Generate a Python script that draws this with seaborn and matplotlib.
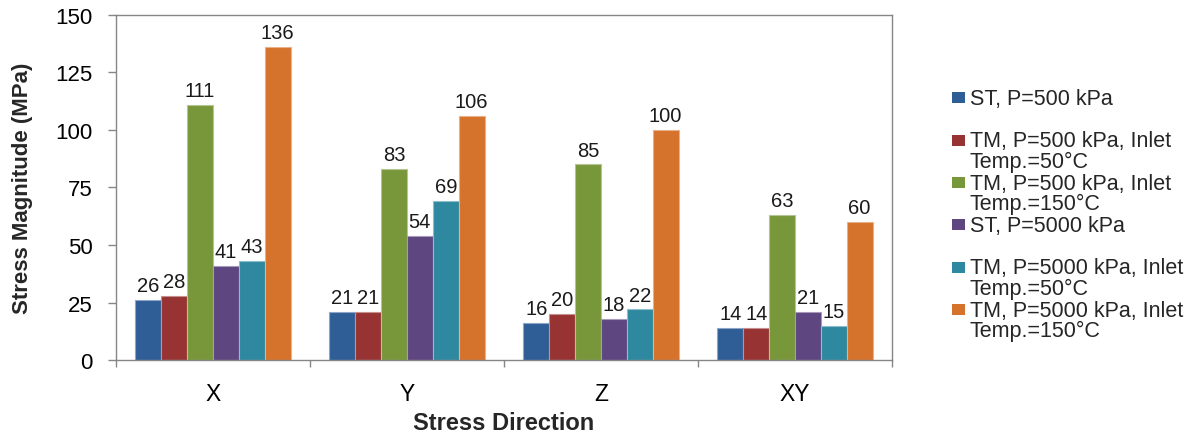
import matplotlib
matplotlib.use("Agg")
import matplotlib.pyplot as plt
from matplotlib.patches import Rectangle
from matplotlib.legend_handler import HandlerPatch
from matplotlib.colors import to_rgb
import numpy as np
import pandas as pd
import seaborn as sns

# ---- data -------------------------------------------------------------
directions = ["X", "Y", "Z", "XY"]
series_labels = [
    "ST, P=500 kPa",
    "TM, P=500 kPa, Inlet\nTemp.=50°C",
    "TM, P=500 kPa, Inlet\nTemp.=150°C",
    "ST, P=5000 kPa",
    "TM, P=5000 kPa, Inlet\nTemp.=50°C",
    "TM, P=5000 kPa, Inlet\nTemp.=150°C",
]
st_500 = [26, 21, 16, 14]
tm_500_50 = [28, 21, 20, 14]
tm_500_150 = [111, 83, 85, 63]
st_5000 = [41, 54, 18, 21]
tm_5000_50 = [43, 69, 22, 15]
tm_5000_150 = [136, 106, 100, 60]
series_values = [st_500, tm_500_50, tm_500_150, st_5000, tm_5000_50, tm_5000_150]
y_ticks = [0, 25, 50, 75, 100, 125, 150]

colors = ["#2F5E97", "#983333", "#78963A", "#5E4680", "#2E88A0", "#D5722B"]

rows = []
for label, vals in zip(series_labels, series_values):
    for d, v in zip(directions, vals):
        rows.append({"Direction": d, "Series": label, "Stress": v})
df = pd.DataFrame(rows)

# ---- style ------------------------------------------------------------
sns.set_style("white")
plt.rcParams["font.family"] = ["Liberation Sans", "DejaVu Sans"]
spine_gray = "#868686"

fig = plt.figure(figsize=(12.02, 4.35), dpi=100)
ax = fig.add_axes([116 / 1202, 1 - 361 / 435, (892 - 116) / 1202, (361 - 16) / 435])

sns.barplot(
    data=df, x="Direction", y="Stress", hue="Series",
    order=directions, hue_order=series_labels, palette=colors,
    saturation=1, errorbar=None, width=0.8, legend=False, ax=ax,
)

# light rim on every bar
for patch in ax.patches:
    fc = np.array(to_rgb(patch.get_facecolor()))
    patch.set_edgecolor(tuple(fc + (1 - fc) * 0.45))
    patch.set_linewidth(0.8)

# value labels
for cont in ax.containers:
    ax.bar_label(cont, fmt="{:.0f}", padding=3.5, fontsize=14.5, color="#1a1a1a")

# axes limits / ticks
ax.set_ylim(0, 150)
ax.set_xlim(-0.5, len(directions) - 0.5)
ax.set_yticks(y_ticks)
ax.set_xticks(np.arange(-0.5, len(directions)), minor=True)
ax.tick_params(axis="y", which="major", length=6, width=1, color=spine_gray,
               direction="out", pad=11, labelsize=16, labelcolor="black", left=True)
ax.tick_params(axis="x", which="major", length=0, pad=16, labelsize=16.5,
               labelcolor="black")
ax.tick_params(axis="x", which="minor", length=5, width=1, color=spine_gray,
               direction="out", bottom=True)

for s in ax.spines.values():
    s.set_visible(True)
    s.set_color(spine_gray)
    s.set_linewidth(1)

ax.set_ylabel("Stress Magnitude (MPa)", fontsize=16, fontweight="bold")
ax.set_xlabel("Stress Direction", fontsize=17, fontweight="bold")
ax.yaxis.set_label_coords(-0.107, 0.5)
ax.xaxis.set_label_coords(0.5, -0.148)
ax.xaxis.label.set_va("top")

# ---- legend -----------------------------------------------------------
leg_fs = 15.5


def square_on_first_line(legend, orig_handle, xdescent, ydescent, width, height, fontsize):
    side_h = 0.52 * fontsize
    side_w = 0.6 * fontsize
    shift = 0.52 * fontsize
    y0 = -ydescent + (height - side_h) / 2 + shift
    return Rectangle((-xdescent, y0), side_w, side_h)


handles = [Rectangle((0, 0), 1, 1, facecolor=c, edgecolor="none") for c in colors]
labels = [lab if "\n" in lab else lab + "\n " for lab in series_labels]
leg = fig.legend(
    handles, labels, loc="upper left",
    bbox_to_anchor=(952 / 1202, 1 - 89 / 435), bbox_transform=fig.transFigure,
    frameon=False, fontsize=leg_fs, borderpad=0, borderaxespad=0,
    handlelength=0.6, handleheight=0.52, handletextpad=0.22, labelspacing=0.05,
    handler_map={Rectangle: HandlerPatch(patch_func=square_on_first_line)},
)
for t in leg.get_texts():
    t.set_linespacing(0.95)

fig.savefig("out.png", dpi=100)
